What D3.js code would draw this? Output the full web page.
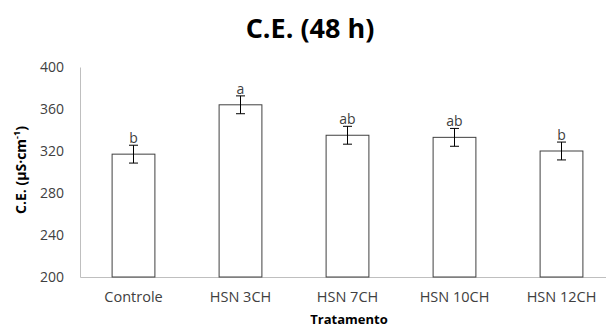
<!DOCTYPE html>
<html>
<head>
<meta charset="utf-8">
<script src="https://cdn.jsdelivr.net/npm/d3@7"></script>
<style>
  body { margin: 0; background: #fff; }
  svg { display: block; font-family: "Open Sans", "Noto Sans", sans-serif; }
</style>
</head>
<body>
<div class="playground"></div>
<script>
var categories = ["Controle", "HSN 3CH", "HSN 7CH", "HSN 10CH", "HSN 12CH"];
var values = [317, 364, 335, 333, 320];
var errors = [8.5, 8.5, 8.5, 8.5, 8.5];
var letters = ["b", "a", "ab", "ab", "b"];
var yTicks = [200, 240, 280, 320, 360, 400];

var width = 606, height = 329;
var plotLeft = 80, plotRight = 615, plotTop = 67, plotBottom = 277;
var font = '"Open Sans", "Noto Sans", sans-serif';

var svg = d3.select('.playground')
  .append('svg')
  .attr('width', width)
  .attr('height', height);

var x = d3.scaleBand()
  .domain(categories)
  .range([plotLeft, plotRight])
  .paddingInner(0.6)
  .paddingOuter(0.3);

var y = d3.scaleLinear()
  .domain([200, 400])
  .range([plotBottom, plotTop]);

// title
svg.append('text')
  .attr('x', 310).attr('y', 38)
  .attr('text-anchor', 'middle')
  .style('font-size', '27px').style('font-weight', 'bold')
  .text('C.E. (48 h)');

// y axis
var yAxis = svg.append('g')
  .attr('transform', 'translate(' + plotLeft + ',0)')
  .call(d3.axisLeft(y).tickValues(yTicks).tickSize(0).tickPadding(16));
yAxis.attr('font-family', font);
yAxis.select('.domain').attr('stroke', '#bfbfbf');
yAxis.selectAll('text').style('font-size', '14px').attr('fill', '#404040');

// x axis
var xAxis = svg.append('g')
  .attr('transform', 'translate(0,' + plotBottom + ')')
  .call(d3.axisBottom(x).tickSize(0).tickPadding(18));
xAxis.attr('font-family', font);
xAxis.select('.domain').attr('stroke', '#bfbfbf');
xAxis.selectAll('text').style('font-size', '14.5px').attr('fill', '#404040')
  .attr('dy', '0.5em');

// bars
svg.selectAll('rect.bar')
  .data(values)
  .enter()
  .append('rect')
  .attr('class', 'bar')
  .attr('x', function(d, i){ return x(categories[i]); })
  .attr('y', function(d){ return y(d); })
  .attr('width', x.bandwidth())
  .attr('height', function(d){ return plotBottom - y(d); })
  .attr('fill', '#fff')
  .attr('stroke', '#404040')
  .attr('stroke-width', 1);

// error bars
var eb = svg.selectAll('g.err')
  .data(values)
  .enter()
  .append('g')
  .attr('class', 'err')
  .attr('stroke', '#000')
  .attr('stroke-width', 1);

function cx(i){ return x(categories[i]) + x.bandwidth() / 2; }

eb.append('line')
  .attr('x1', function(d, i){ return cx(i); })
  .attr('x2', function(d, i){ return cx(i); })
  .attr('y1', function(d, i){ return y(d + errors[i]); })
  .attr('y2', function(d, i){ return y(d - errors[i]); });
eb.append('line')
  .attr('x1', function(d, i){ return cx(i) - 4.5; })
  .attr('x2', function(d, i){ return cx(i) + 4.5; })
  .attr('y1', function(d, i){ return y(d + errors[i]); })
  .attr('y2', function(d, i){ return y(d + errors[i]); });
eb.append('line')
  .attr('x1', function(d, i){ return cx(i) - 4.5; })
  .attr('x2', function(d, i){ return cx(i) + 4.5; })
  .attr('y1', function(d, i){ return y(d - errors[i]); })
  .attr('y2', function(d, i){ return y(d - errors[i]); });

// letters
svg.selectAll('text.letter')
  .data(values)
  .enter()
  .append('text')
  .attr('class', 'letter')
  .attr('x', function(d, i){ return cx(i); })
  .attr('y', function(d, i){ return y(d + errors[i]) - 2; })
  .attr('text-anchor', 'middle')
  .style('font-size', '14px')
  .attr('fill', '#404040')
  .text(function(d, i){ return letters[i]; });

// axis titles
svg.append('text')
  .attr('x', 349).attr('y', 324)
  .attr('text-anchor', 'middle')
  .style('font-size', '13px').style('font-weight', 'bold')
  .attr('fill', '#000')
  .text('Tratamento');

var yt = svg.append('text')
  .attr('transform', 'translate(26,170) rotate(-90)')
  .attr('text-anchor', 'middle')
  .style('font-size', '14px').style('font-weight', 'bold');
yt.append('tspan').text('C.E. (µS·cm');
yt.append('tspan').attr('baseline-shift', 'super').style('font-size', '9px').text('-1');
yt.append('tspan').text(')');
</script>
</body>
</html>
